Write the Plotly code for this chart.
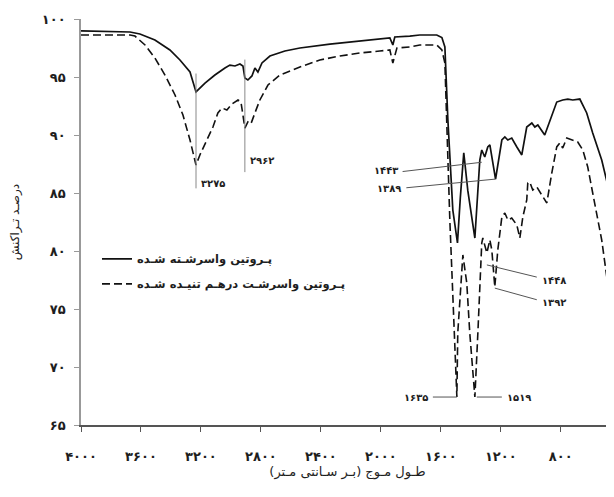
import plotly.graph_objects as go

# ---- data (wavenumber cm^-1, transmittance %) ----
denatured_wn = [4000, 3800, 3673, 3607, 3507, 3407, 3340, 3273, 3233, 3173, 3107, 3040, 3007,
                2973, 2940, 2920, 2907, 2887, 2860, 2840, 2820, 2793, 2740, 2640, 2540, 2340,
                2207, 2073, 2007, 1940, 1920, 1907, 1807, 1740, 1627, 1593, 1573, 1553, 1520,
                1489, 1470, 1447, 1420, 1373, 1340, 1327, 1307, 1287, 1273, 1253, 1235, 1193,
                1173, 1153, 1127, 1093, 1060, 1027, 993, 973, 953, 907, 873, 827, 787, 753,
                720, 673, 627, 587, 527, 473, 447]
denatured_t = [98.97, 98.95, 98.88, 98.71, 98.19, 97.33, 96.47, 95.43, 93.71, 94.48, 95.17, 95.78,
               96.03, 95.95, 96.12, 95.95, 94.91, 94.74, 95.09, 95.78, 95.43, 96.21, 96.81,
               97.24, 97.50, 97.84, 98.02, 98.19, 98.23, 98.36, 97.76, 98.45, 98.53, 98.62,
               98.62, 98.40, 97.59, 91.29, 83.53, 80.69, 84.6, 88.47, 85.2, 81.12, 87.84, 88.71,
               88.10, 88.97, 89.14, 87.59, 86.2, 89.57, 89.83, 89.57, 89.74, 88.97, 88.28,
               90.69, 91.03, 90.69, 90.86, 90.00, 91.29, 92.84, 93.02, 93.10, 93.02, 93.10,
               91.90, 90.17, 87.84, 85.00, 83.53]

crosslinked_wn = [4000, 3673, 3640, 3573, 3507, 3440, 3373, 3320, 3273, 3233, 3207, 3160, 3120,
                  3087, 3060, 3027, 2993, 2953, 2933, 2920, 2907, 2887, 2867, 2840, 2807, 2753,
                  2673, 2540, 2407, 2273, 2140, 2007, 1940, 1920, 1893, 1807, 1740, 1627, 1593,
                  1573, 1553, 1540, 1493, 1487, 1453, 1427, 1407, 1373, 1353, 1327, 1320, 1293,
                  1273, 1260, 1240, 1220, 1193, 1173, 1153, 1127, 1093, 1073, 1053, 1027, 1020,
                  1007, 987, 960, 927, 893, 860, 827, 807, 787, 760, 727, 687, 653, 620, 587,
                  553, 527, 493, 460, 447]
crosslinked_t = [98.62, 98.62, 98.53, 97.76, 96.64, 95.17, 93.45, 91.72, 89.57, 87.41, 88.28,
                 89.57, 90.69, 91.90, 92.33, 92.16, 92.67, 93.02, 92.84, 91.72, 90.60, 91.12,
                 90.95, 91.90, 93.02, 94.31, 95.17, 95.86, 96.47, 96.81, 97.07, 97.24, 97.33,
                 96.21, 97.50, 97.59, 97.76, 97.76, 97.33, 96.21, 88.45, 82.67, 67.41, 72.93,
                 79.66, 77.24, 72.93, 67.41, 72.93, 80.69, 81.12, 79.83, 80.95, 80.09, 76.90,
                 80.09, 82.93, 83.28, 82.67, 82.84, 82.24, 81.12, 82.93, 84.40, 85.86, 85.95,
                 85.26, 85.52, 84.83, 84.14, 86.72, 88.97, 89.31, 88.88, 89.74, 89.57, 89.40,
                 88.71, 87.24, 85.00, 82.67, 80.95, 77.76, 74.91, 73.45]

series_names = ["پـروتین واسرشـته شـده", "پـروتین واسرشـت درهـم تنیـده شـده"]

x_ticks = [4000, 3600, 3200, 2800, 2400, 2000, 1600, 1200, 800]
x_ticktext = ["۴۰۰۰", "۳۶۰۰", "۳۲۰۰", "۲۸۰۰", "۲۴۰۰", "۲۰۰۰", "۱۶۰۰", "۱۲۰۰", "۸۰۰"]
y_ticks = [65, 70, 75, 80, 85, 90, 95, 100]
y_ticktext = ["۶۵", "۷۰", "۷۵", "۸۰", "۸۵", "۹۰", "۹۵", "۱۰۰"]

# vertical marker lines
vmarks_wn = [3233, 2907]
vmarks_lo = [85.4, 86.8]
vmarks_hi = [95.3, 96.5]
vmarks_label = ["۳۲۷۵", "۲۹۶۲"]
vmarks_label_wn = [3120, 2793]
vmarks_label_t = [85.8, 87.8]

# leader-line annotations
lead_x0 = [1855, 1830, 1293, 1240, 1653, 1360]
lead_y0 = [86.85, 85.45, 78.8, 76.8, 67.41, 67.41]
lead_x1 = [1327, 1235, 960, 960, 1493, 1193]
lead_y1 = [87.65, 86.2, 77.75, 75.8, 67.41, 67.41]
lead_label = ["۱۴۴۳", "۱۳۸۹", "۱۴۴۸", "۱۳۹۲", "۱۶۳۵", "۱۵۱۹"]
lead_label_wn = [1875, 1850, 940, 940, 1670, 1175]
lead_label_t = [86.95, 85.35, 77.5, 75.6, 67.41, 67.41]
lead_anchor = ["right", "right", "left", "left", "right", "left"]

FONT = "DejaVu Sans"
TXT = "#1e1e1e"

fig = go.Figure()
fig.add_trace(go.Scatter(x=denatured_wn, y=denatured_t, mode="lines", name=series_names[0],
                         legendgroup="a", line=dict(color="#111111", width=1.7)))
fig.add_trace(go.Scatter(x=crosslinked_wn, y=crosslinked_t, mode="lines", name=series_names[1],
                         legendgroup="b", line=dict(color="#111111", width=1.6, dash="8px,4px")))

for wn, lo, hi in zip(vmarks_wn, vmarks_lo, vmarks_hi):
    fig.add_shape(type="line", x0=wn, x1=wn, y0=lo, y1=hi, xref="x", yref="y",
                  line=dict(color="#888888", width=1))
for txt, wn, t in zip(vmarks_label, vmarks_label_wn, vmarks_label_t):
    fig.add_annotation(x=wn, y=t, text=txt, showarrow=False, xanchor="center",
                       font=dict(family=FONT, size=10, color=TXT, weight="bold"))

for x0, y0, x1, y1 in zip(lead_x0, lead_y0, lead_x1, lead_y1):
    fig.add_shape(type="line", x0=x0, x1=x1, y0=y0, y1=y1, xref="x", yref="y",
                  line=dict(color="#555555", width=1))
for txt, wn, t, anc in zip(lead_label, lead_label_wn, lead_label_t, lead_anchor):
    fig.add_annotation(x=wn, y=t, text=txt, showarrow=False, xanchor=anc, yanchor="middle",
                       font=dict(family=FONT, size=10, color=TXT, weight="bold"))

fig.update_layout(
    width=614, height=497,
    margin=dict(l=73, r=8, t=11, b=80),
    paper_bgcolor="white", plot_bgcolor="white",
    font=dict(family=FONT, color=TXT, size=12),
    showlegend=True,
    legend=dict(x=0.03, y=0.445, xanchor="left", yanchor="top",
                bgcolor="rgba(0,0,0,0)",
                font=dict(family=FONT, size=11.5, color=TXT, weight="bold"),
                tracegroupgap=6),
)
fig.update_xaxes(range=[4000, 445], tickvals=x_ticks, ticktext=x_ticktext, automargin=False,
                 showgrid=False, zeroline=False, showline=True, linecolor="#555555",
                 linewidth=1.5, ticks="outside", ticklen=5, tickcolor="#555555",
                 ticklabelstandoff=14,
                 tickfont=dict(family=FONT, size=13, color=TXT, weight="bold"),
                 title=dict(text="طـول مـوج (بـر سـانتی مـتر)", standoff=4,
                            font=dict(family=FONT, size=13, color=TXT)))
fig.update_yaxes(range=[65, 100], tickvals=y_ticks, ticktext=y_ticktext, automargin=False,
                 showgrid=False, zeroline=False, showline=True, linecolor="#999999",
                 linewidth=1.5, ticks="outside", ticklen=5, tickcolor="#999999",
                 ticklabelstandoff=6,
                 tickfont=dict(family=FONT, size=13, color=TXT, weight="bold"),
                 title=dict(text="درصـد تـراکنش", standoff=22,
                            font=dict(family=FONT, size=12, color=TXT)))

fig.write_html("out.html")
